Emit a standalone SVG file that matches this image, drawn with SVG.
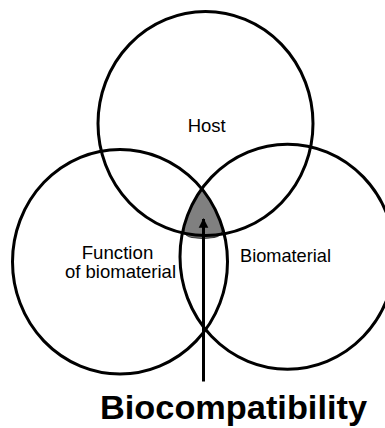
<svg xmlns="http://www.w3.org/2000/svg" width="385" height="428" viewBox="0 0 385 428">
<style>
.c{fill:none;stroke:#000;stroke-width:3}
.t{font-family:"Liberation Sans",Arial,sans-serif;font-size:18.5px;fill:#000}
.b{font-family:"Liberation Sans",Arial,sans-serif;font-size:34px;font-weight:bold;fill:#000}
</style>
<defs>
<marker id="ah" viewBox="0 0 10 10" refX="9" refY="5" markerWidth="3.2" markerHeight="3.6" markerUnits="strokeWidth" orient="auto">
<path d="M0,0 L10,5 L0,10 Z" fill="#000"/>
</marker>
</defs>
<rect width="385" height="428" fill="#fff"/>
<g id="intersection">
<path d="M201.7,188.8 A107.5,112.5 0 0 0 183.6,228 Q183.8,236.5 192,237.5 Q203,239.5 214,237.5 Q222.3,236.5 222.5,228 A107.5,112.3 0 0 0 201.7,188.8 Z" fill="#808080" stroke="#333" stroke-width="1"/>
</g>
<g id="host">
<ellipse class="c" cx="205.5" cy="123.6" rx="107.5" ry="112"/>
<text class="t" x="187.7" y="131.7" textLength="38" lengthAdjust="spacingAndGlyphs">Host</text>
</g>
<g id="function">
<ellipse class="c" cx="120" cy="261.7" rx="107.5" ry="112.3"/>
<text class="t" x="81.7" y="258.5" textLength="71.6" lengthAdjust="spacingAndGlyphs">Function</text>
<text class="t" x="65" y="277.5" textLength="111" lengthAdjust="spacingAndGlyphs">of biomaterial</text>
</g>
<g id="biomaterial">
<ellipse class="c" cx="287.5" cy="256.7" rx="107.5" ry="112.5"/>
<text class="t" x="240" y="261.7" textLength="91" lengthAdjust="spacingAndGlyphs">Biomaterial</text>
</g>
<g id="connectors">
<line x1="203.5" y1="381.5" x2="203.5" y2="219" stroke="#000" stroke-width="3" marker-end="url(#ah)"/>
</g>
<g id="biocompatibility">
<text class="b" x="100" y="419" textLength="267" lengthAdjust="spacingAndGlyphs">Biocompatibility</text>
</g>
</svg>
